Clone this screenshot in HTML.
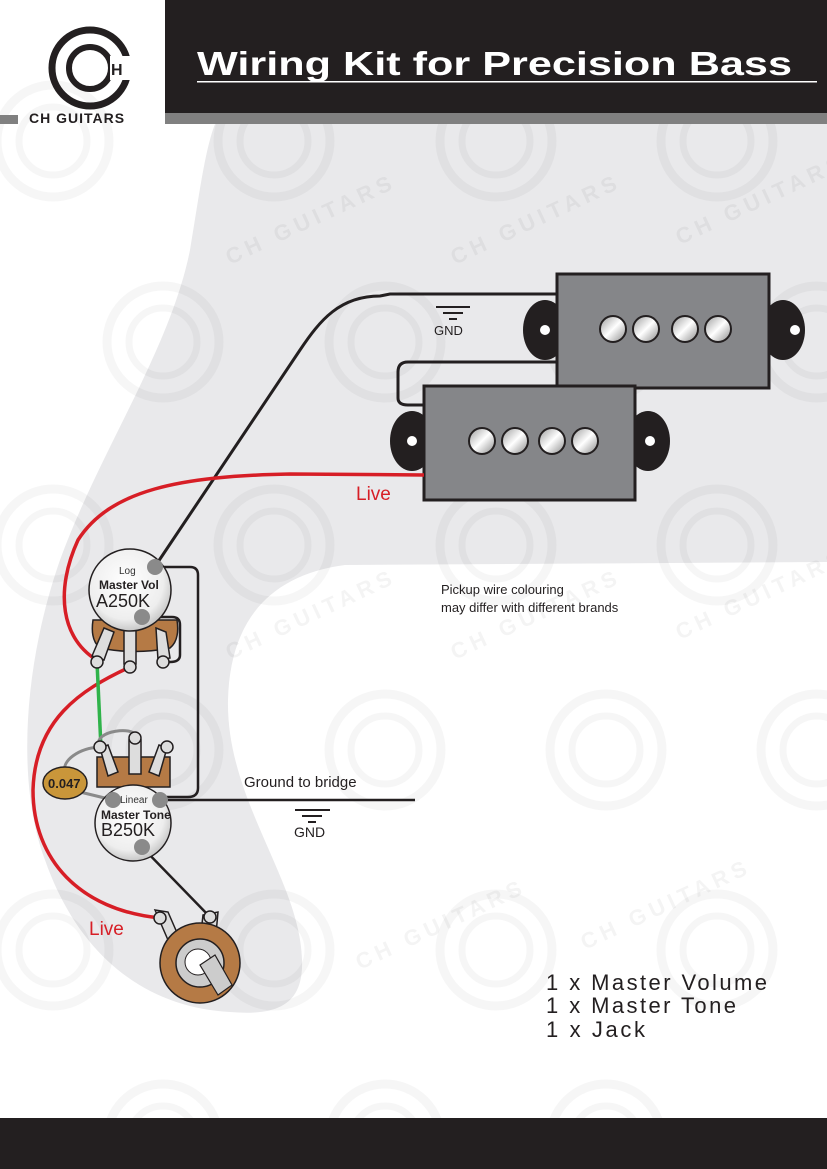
<!DOCTYPE html>
<html><head><meta charset="utf-8"><style>
html,body{margin:0;padding:0;background:#fff;}
svg{display:block;font-family:"Liberation Sans",sans-serif;}
</style></head><body>
<svg width="827" height="1169" viewBox="0 0 827 1169" xmlns="http://www.w3.org/2000/svg">
<defs>
<radialGradient id="pot" cx="0.45" cy="0.4" r="0.65"><stop offset="0" stop-color="#fff"/><stop offset="0.7" stop-color="#eee"/><stop offset="1" stop-color="#bbb"/></radialGradient>
<linearGradient id="pole" x1="0" y1="0" x2="1" y2="1"><stop offset="0" stop-color="#999"/><stop offset="0.5" stop-color="#fff"/><stop offset="1" stop-color="#888"/></linearGradient>
<g id="wm"><circle r="56" fill="none" stroke="#000" stroke-width="9" opacity="0.035"/><circle r="34" fill="none" stroke="#000" stroke-width="7" opacity="0.035"/></g>
</defs>
<path d="M215 124 L827 124 L827 562 L345 565 C270 575 230 620 228 700 C226 800 300 880 302 960 C304 1010 270 1015 230 1012 C150 1008 80 960 45 860 C15 780 25 660 60 560 C100 450 170 350 190 250 C200 190 205 150 215 124 Z" fill="#e9e9eb"/>
<g>
<use href="#wm" x="53" y="141"/><use href="#wm" x="274" y="141"/><use href="#wm" x="496" y="141"/><use href="#wm" x="717" y="141"/>
<use href="#wm" x="163" y="342"/><use href="#wm" x="385" y="342"/><use href="#wm" x="606" y="342"/><use href="#wm" x="817" y="342"/>
<use href="#wm" x="53" y="545"/><use href="#wm" x="274" y="545"/><use href="#wm" x="496" y="545"/><use href="#wm" x="717" y="545"/>
<use href="#wm" x="163" y="750"/><use href="#wm" x="385" y="750"/><use href="#wm" x="606" y="750"/><use href="#wm" x="817" y="750"/>
<use href="#wm" x="53" y="950"/><use href="#wm" x="274" y="950"/><use href="#wm" x="496" y="950"/><use href="#wm" x="717" y="950"/>
<use href="#wm" x="163" y="1140"/><use href="#wm" x="385" y="1140"/><use href="#wm" x="606" y="1140"/>
</g>
<g fill="#000" opacity="0.045" font-size="22" font-weight="bold" letter-spacing="5">
<text transform="translate(230,265) rotate(-25)">CH GUITARS</text>
<text transform="translate(455,265) rotate(-25)">CH GUITARS</text>
<text transform="translate(680,245) rotate(-25)">CH GUITARS</text>
<text transform="translate(230,660) rotate(-25)">CH GUITARS</text>
<text transform="translate(455,660) rotate(-25)">CH GUITARS</text>
<text transform="translate(680,640) rotate(-25)">CH GUITARS</text>
<text transform="translate(360,970) rotate(-25)">CH GUITARS</text>
<text transform="translate(585,950) rotate(-25)">CH GUITARS</text>
</g>
<rect x="165" y="0" width="662" height="113" fill="#231f20"/>
<rect x="165" y="113" width="662" height="11" fill="#808080"/>
<rect x="0" y="115" width="18" height="9" fill="#808080"/>
<text x="197" y="75" fill="#fff" font-size="33" font-weight="bold" textLength="595" lengthAdjust="spacingAndGlyphs">Wiring Kit for Precision Bass</text>
<rect x="197" y="81" width="620" height="1.5" fill="#fff"/>
<circle cx="90" cy="68" r="38" fill="none" stroke="#231f20" stroke-width="7"/>
<circle cx="90" cy="68" r="21" fill="none" stroke="#231f20" stroke-width="6"/>
<rect x="110" y="56" width="22" height="24" fill="#fff"/>
<text x="111" y="75" font-size="16" font-weight="bold" fill="#231f20">H</text>
<text x="29" y="123" font-size="14" font-weight="bold" fill="#231f20" letter-spacing="1">CH GUITARS</text>
<rect x="0" y="1118" width="827" height="51" fill="#231f20"/>
<ellipse cx="545" cy="330" rx="22" ry="30" fill="#231f20"/><circle cx="545" cy="330" r="5" fill="#fff"/>
<ellipse cx="783" cy="330" rx="22" ry="30" fill="#231f20"/><circle cx="795" cy="330" r="5" fill="#fff"/>
<rect x="557" y="274" width="212" height="114" fill="#858689" stroke="#231f20" stroke-width="3"/>
<g stroke="#231f20" stroke-width="2" fill="url(#pole)"><circle cx="613" cy="329" r="13"/><circle cx="646" cy="329" r="13"/><circle cx="685" cy="329" r="13"/><circle cx="718" cy="329" r="13"/></g>
<path d="M557 362 L408 362 Q398 362 398 372 L398 398 Q398 405 408 405 L424 405" fill="none" stroke="#231f20" stroke-width="3"/>
<ellipse cx="412" cy="441" rx="22" ry="30" fill="#231f20"/><circle cx="412" cy="441" r="5" fill="#fff"/>
<ellipse cx="648" cy="441" rx="22" ry="30" fill="#231f20"/><circle cx="650" cy="441" r="5" fill="#fff"/>
<rect x="424" y="386" width="211" height="114" fill="#858689" stroke="#231f20" stroke-width="3"/>
<g stroke="#231f20" stroke-width="2" fill="url(#pole)"><circle cx="482" cy="441" r="13"/><circle cx="515" cy="441" r="13"/><circle cx="552" cy="441" r="13"/><circle cx="585" cy="441" r="13"/></g>
<g stroke="#231f20" stroke-width="2"><line x1="436" y1="307" x2="470" y2="307"/><line x1="443" y1="313" x2="463" y2="313"/><line x1="449" y1="319" x2="457" y2="319"/></g>
<text x="434" y="335" font-size="13" fill="#231f20">GND</text>
<path d="M557 294 L390 294 L380 296 C340 296 320 320 300 350 L158 562" fill="none" stroke="#231f20" stroke-width="3"/>
<path d="M424 475 L290 474 C180 476 110 490 78 540 C55 590 60 640 100 662" fill="none" stroke="#d71e26" stroke-width="3.5"/>
<path d="M130 667 C80 690 35 720 33 790 C33 860 80 910 160 918" fill="none" stroke="#d71e26" stroke-width="3.5"/>
<path d="M97 662 L101 748" stroke="#2fb34a" stroke-width="3.5"/>
<path d="M155 567 L190 567 Q198 567 198 575 L198 788 Q198 797 188 797 L160 797" fill="none" stroke="#231f20" stroke-width="2.5"/>
<path d="M142 617 L172 617 Q180 617 180 625 L180 655 Q180 662 170 662 L163 662" fill="none" stroke="#231f20" stroke-width="2.5"/>
<line x1="160" y1="800" x2="415" y2="800" stroke="#231f20" stroke-width="2.5"/>
<path d="M100 747 C90 730 140 725 135 738" fill="none" stroke="#8a8a8a" stroke-width="3"/>
<path d="M100 747 C80 748 60 760 65 775 M80 792 L113 800" fill="none" stroke="#8a8a8a" stroke-width="3"/>
<line x1="142" y1="847" x2="210" y2="917" stroke="#231f20" stroke-width="2.5"/>
<path d="M93 620 L177 620 Q180 640 170 648 Q135 655 100 648 Q90 640 93 620 Z" fill="#b57a45" stroke="#231f20" stroke-width="1.5"/>
<g fill="#ddd" stroke="#231f20" stroke-width="1.5">
<path d="M104 628 L114 632 L104 660 L92 656 Z"/><rect x="124" y="630" width="12" height="34"/><path d="M156 628 L166 632 L170 658 L158 660 Z"/>
<circle cx="97" cy="662" r="6"/><circle cx="130" cy="667" r="6"/><circle cx="163" cy="662" r="6"/></g>
<circle cx="130" cy="590" r="41" fill="url(#pot)" stroke="#231f20" stroke-width="1.5"/>
<circle cx="155" cy="567" r="8" fill="#8a8a8a"/><circle cx="142" cy="617" r="8" fill="#8a8a8a"/>
<text x="119" y="574" font-size="10" fill="#333">Log</text>
<text x="99" y="589" font-size="12" font-weight="bold" fill="#231f20">Master Vol</text>
<text x="96" y="607" font-size="18" fill="#231f20">A250K</text>
<path d="M97 757 L170 757 L170 787 L97 787 Z" fill="#b57a45" stroke="#231f20" stroke-width="1.5"/>
<g fill="#ddd" stroke="#231f20" stroke-width="1.5">
<path d="M100 748 L108 745 L118 772 L108 776 Z"/><rect x="129" y="740" width="12" height="34"/><path d="M167 748 L159 745 L149 772 L159 776 Z"/>
<circle cx="100" cy="747" r="6"/><circle cx="135" cy="738" r="6"/><circle cx="167" cy="747" r="6"/></g>
<circle cx="133" cy="823" r="38" fill="url(#pot)" stroke="#231f20" stroke-width="1.5"/>
<circle cx="113" cy="800" r="8" fill="#8a8a8a"/><circle cx="160" cy="800" r="8" fill="#8a8a8a"/><circle cx="142" cy="847" r="8" fill="#8a8a8a"/>
<text x="120" y="803" font-size="10" fill="#333">Linear</text>
<text x="101" y="819" font-size="12" font-weight="bold" fill="#231f20">Master Tone</text>
<text x="101" y="836" font-size="18" fill="#231f20">B250K</text>
<ellipse cx="65" cy="783" rx="22" ry="16" fill="#c9963a" stroke="#231f20" stroke-width="1.5"/>
<text x="48" y="788" font-size="13" font-weight="bold" fill="#231f20">0.047</text>
<path d="M155 910 L168 912 L178 935 L168 940 Z" fill="#ddd" stroke="#231f20" stroke-width="1.5"/>
<circle cx="160" cy="918" r="6" fill="#ddd" stroke="#231f20" stroke-width="1.5"/>
<path d="M203 915 L218 912 L215 945 L200 942 Z" fill="#ddd" stroke="#231f20" stroke-width="1.5"/>
<circle cx="210" cy="917" r="6" fill="#ddd" stroke="#231f20" stroke-width="1.5"/>
<circle cx="200" cy="963" r="40" fill="#b57a45" stroke="#231f20" stroke-width="1.5"/>
<circle cx="200" cy="963" r="24" fill="#ccc" stroke="#231f20" stroke-width="1.5"/>
<circle cx="198" cy="962" r="13" fill="#fff" stroke="#231f20" stroke-width="1"/>
<path d="M200 965 L215 955 L232 985 L218 995 Z" fill="#ccc" stroke="#231f20" stroke-width="1.2"/>
<text x="356" y="500" font-size="19" fill="#d71e26">Live</text>
<text x="89" y="935" font-size="19" fill="#d71e26">Live</text>
<text x="441" y="594" font-size="13" fill="#231f20">Pickup wire colouring</text>
<text x="441" y="612" font-size="13" fill="#231f20">may differ with different brands</text>
<text x="244" y="787" font-size="15" fill="#231f20">Ground to bridge</text>
<g stroke="#231f20" stroke-width="2"><line x1="295" y1="810" x2="330" y2="810"/><line x1="302" y1="816" x2="322" y2="816"/><line x1="308" y1="822" x2="316" y2="822"/></g>
<text x="294" y="837" font-size="14" fill="#231f20">GND</text>
<text x="546" y="990" font-size="22" fill="#231f20" textLength="221">1 x Master Volume</text>
<text x="546" y="1013" font-size="22" fill="#231f20" textLength="190">1 x Master Tone</text>
<text x="546" y="1037" font-size="22" fill="#231f20" textLength="99">1 x Jack</text>
</svg>
</body></html>
